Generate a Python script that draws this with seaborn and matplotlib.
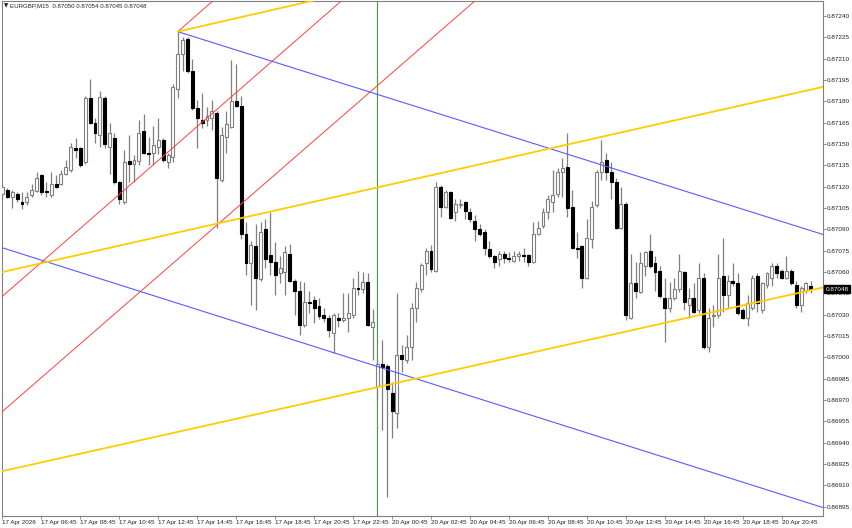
import matplotlib
matplotlib.use("Agg")
import matplotlib.pyplot as plt
import seaborn as sns
import numpy as np
import pandas as pd

sns.set_style("white")
plt.rcParams['font.family'] = ['Liberation Sans', 'DejaVu Sans']

# ---------------- data (EURGBP M15 candles) ----------------
opens = [
    0.87115, 0.87118, 0.87113, 0.87115, 0.87109, 0.87109, 0.87114, 0.87117, 0.87128, 0.87117,
    0.87114, 0.87122, 0.87122, 0.87129, 0.87132, 0.87147, 0.87147, 0.87137, 0.87182, 0.87165,
    0.87156, 0.87182, 0.87148, 0.87154, 0.87123, 0.87109, 0.87138, 0.87136, 0.87138, 0.87159,
    0.87144, 0.87144, 0.87148, 0.87153, 0.87137, 0.87141, 0.87189, 0.87213, 0.87224, 0.87201,
    0.87175, 0.87167, 0.87167, 0.87168, 0.87172, 0.87125, 0.87155, 0.87162, 0.87180, 0.87177,
    0.87087, 0.87066, 0.87078, 0.87055, 0.87090, 0.87072, 0.87067, 0.87059, 0.87060, 0.87073,
    0.87054, 0.87047, 0.87023, 0.87039, 0.87040, 0.87036, 0.87030, 0.87028, 0.87017, 0.87028,
    0.87026, 0.87028, 0.87030, 0.87049, 0.87048, 0.87053, 0.87021, 0.86980, 0.86995, 0.86994,
    0.86975, 0.86961, 0.87002, 0.86998, 0.87007, 0.87035, 0.87048, 0.87066, 0.87075, 0.87061,
    0.87120, 0.87106, 0.87116, 0.87102, 0.87107, 0.87109, 0.87102, 0.87096, 0.87090, 0.87088,
    0.87076, 0.87071, 0.87069, 0.87073, 0.87070, 0.87068, 0.87071, 0.87072, 0.87072, 0.87067,
    0.87087, 0.87092, 0.87102, 0.87109, 0.87115, 0.87130, 0.87134, 0.87106, 0.87077, 0.87078,
    0.87056, 0.87083, 0.87107, 0.87130, 0.87139, 0.87130, 0.87123, 0.87091, 0.87108, 0.87028,
    0.87052, 0.87046, 0.87064, 0.87075, 0.87066, 0.87061, 0.87042, 0.87035, 0.87042, 0.87048,
    0.87060, 0.87037, 0.87042, 0.87033, 0.87056, 0.87007, 0.87029, 0.87030, 0.87057, 0.87044,
    0.87054, 0.87052, 0.87033, 0.87028, 0.87035, 0.87057, 0.87033, 0.87051, 0.87056, 0.87064,
    0.87061, 0.87056, 0.87061, 0.87051, 0.87037, 0.87047, 0.87050,
]
highs = [
    0.87122, 0.87119, 0.87118, 0.87116, 0.87116, 0.87116, 0.87122, 0.87130, 0.87129, 0.87123,
    0.87130, 0.87128, 0.87132, 0.87139, 0.87151, 0.87154, 0.87148, 0.87184, 0.87196, 0.87168,
    0.87187, 0.87184, 0.87165, 0.87158, 0.87124, 0.87146, 0.87156, 0.87142, 0.87167, 0.87171,
    0.87155, 0.87163, 0.87168, 0.87154, 0.87144, 0.87192, 0.87229, 0.87225, 0.87225, 0.87210,
    0.87181, 0.87186, 0.87176, 0.87181, 0.87173, 0.87162, 0.87173, 0.87209, 0.87206, 0.87184,
    0.87095, 0.87082, 0.87094, 0.87095, 0.87097, 0.87102, 0.87081, 0.87071, 0.87078, 0.87080,
    0.87055, 0.87054, 0.87053, 0.87047, 0.87043, 0.87042, 0.87035, 0.87030, 0.87031, 0.87031,
    0.87045, 0.87045, 0.87056, 0.87061, 0.87060, 0.87059, 0.87034, 0.86999, 0.87012, 0.86995,
    0.86983, 0.87045, 0.87009, 0.87016, 0.87038, 0.87053, 0.87066, 0.87077, 0.87079, 0.87123,
    0.87121, 0.87118, 0.87117, 0.87111, 0.87111, 0.87110, 0.87105, 0.87100, 0.87094, 0.87090,
    0.87082, 0.87072, 0.87075, 0.87075, 0.87074, 0.87075, 0.87075, 0.87077, 0.87073, 0.87095,
    0.87096, 0.87105, 0.87114, 0.87132, 0.87133, 0.87140, 0.87158, 0.87118, 0.87088, 0.87079,
    0.87097, 0.87110, 0.87132, 0.87153, 0.87144, 0.87137, 0.87126, 0.87120, 0.87109, 0.87073,
    0.87067, 0.87074, 0.87075, 0.87087, 0.87071, 0.87064, 0.87056, 0.87053, 0.87056, 0.87073,
    0.87061, 0.87049, 0.87052, 0.87066, 0.87059, 0.87035, 0.87037, 0.87073, 0.87084, 0.87058,
    0.87066, 0.87059, 0.87035, 0.87044, 0.87058, 0.87059, 0.87053, 0.87060, 0.87066, 0.87066,
    0.87062, 0.87071, 0.87062, 0.87054, 0.87050, 0.87053, 0.87054,
]
lows = [
    0.87111, 0.87112, 0.87105, 0.87109, 0.87104, 0.87107, 0.87113, 0.87116, 0.87114, 0.87113,
    0.87113, 0.87119, 0.87121, 0.87128, 0.87130, 0.87140, 0.87134, 0.87136, 0.87164, 0.87151,
    0.87148, 0.87147, 0.87129, 0.87122, 0.87108, 0.87108, 0.87123, 0.87123, 0.87135, 0.87143,
    0.87135, 0.87135, 0.87143, 0.87137, 0.87133, 0.87137, 0.87182, 0.87201, 0.87200, 0.87174,
    0.87147, 0.87161, 0.87163, 0.87160, 0.87091, 0.87123, 0.87144, 0.87161, 0.87176, 0.87083,
    0.87058, 0.87037, 0.87033, 0.87054, 0.87063, 0.87058, 0.87044, 0.87052, 0.87044, 0.87053,
    0.87030, 0.87016, 0.87021, 0.87031, 0.87024, 0.87027, 0.87025, 0.87014, 0.87003, 0.87021,
    0.87025, 0.87018, 0.87028, 0.87044, 0.87045, 0.87022, 0.86998, 0.86970, 0.86949, 0.86902,
    0.86943, 0.86950, 0.86990, 0.86996, 0.86998, 0.87025, 0.87046, 0.87058, 0.87060, 0.87060,
    0.87099, 0.87105, 0.87097, 0.87096, 0.87105, 0.87097, 0.87095, 0.87082, 0.87085, 0.87072,
    0.87070, 0.87063, 0.87064, 0.87066, 0.87067, 0.87067, 0.87068, 0.87067, 0.87064, 0.87066,
    0.87086, 0.87091, 0.87097, 0.87102, 0.87113, 0.87113, 0.87099, 0.87076, 0.87070, 0.87049,
    0.87055, 0.87077, 0.87106, 0.87125, 0.87125, 0.87111, 0.87090, 0.87090, 0.87026, 0.87027,
    0.87042, 0.87045, 0.87057, 0.87063, 0.87047, 0.87042, 0.87011, 0.87032, 0.87040, 0.87046,
    0.87033, 0.87028, 0.87031, 0.87031, 0.87006, 0.87004, 0.87021, 0.87028, 0.87032, 0.87035,
    0.87050, 0.87030, 0.87027, 0.87022, 0.87033, 0.87032, 0.87031, 0.87049, 0.87050, 0.87056,
    0.87055, 0.87055, 0.87051, 0.87035, 0.87032, 0.87045, 0.87045,
]
closes = [
    0.87120, 0.87113, 0.87116, 0.87111, 0.87108, 0.87113, 0.87118, 0.87126, 0.87116, 0.87116,
    0.87122, 0.87120, 0.87129, 0.87134, 0.87148, 0.87146, 0.87135, 0.87182, 0.87165, 0.87158,
    0.87183, 0.87150, 0.87158, 0.87123, 0.87111, 0.87137, 0.87136, 0.87139, 0.87158, 0.87144,
    0.87143, 0.87149, 0.87153, 0.87139, 0.87142, 0.87190, 0.87213, 0.87223, 0.87201, 0.87175,
    0.87168, 0.87165, 0.87170, 0.87173, 0.87126, 0.87156, 0.87164, 0.87180, 0.87177, 0.87087,
    0.87066, 0.87079, 0.87056, 0.87088, 0.87069, 0.87067, 0.87058, 0.87063, 0.87074, 0.87054,
    0.87047, 0.87023, 0.87039, 0.87038, 0.87035, 0.87029, 0.87028, 0.87019, 0.87030, 0.87026,
    0.87028, 0.87031, 0.87049, 0.87048, 0.87053, 0.87023, 0.87025, 0.86995, 0.86993, 0.86978,
    0.86962, 0.87002, 0.86999, 0.87007, 0.87035, 0.87049, 0.87065, 0.87075, 0.87062, 0.87120,
    0.87106, 0.87116, 0.87098, 0.87108, 0.87108, 0.87103, 0.87097, 0.87090, 0.87087, 0.87077,
    0.87071, 0.87067, 0.87073, 0.87070, 0.87069, 0.87071, 0.87073, 0.87071, 0.87067, 0.87087,
    0.87091, 0.87102, 0.87111, 0.87114, 0.87130, 0.87133, 0.87105, 0.87077, 0.87076, 0.87056,
    0.87084, 0.87106, 0.87130, 0.87137, 0.87130, 0.87123, 0.87091, 0.87108, 0.87030, 0.87052,
    0.87047, 0.87066, 0.87074, 0.87064, 0.87060, 0.87043, 0.87035, 0.87042, 0.87048, 0.87061,
    0.87039, 0.87042, 0.87032, 0.87056, 0.87007, 0.87028, 0.87030, 0.87056, 0.87044, 0.87054,
    0.87052, 0.87031, 0.87028, 0.87038, 0.87056, 0.87038, 0.87052, 0.87059, 0.87064, 0.87059,
    0.87056, 0.87061, 0.87052, 0.87037, 0.87049, 0.87052, 0.87048,
]

x_tick_pos = [0, 8, 16, 24, 32, 40, 48, 56, 64, 72, 80, 88, 96, 104, 112, 120, 128, 136, 144, 152, 160]
x_tick_labels = [
    "17 Apr 2026", "17 Apr 06:45", "17 Apr 08:45", "17 Apr 10:45", "17 Apr 12:45",
    "17 Apr 14:45", "17 Apr 16:45", "17 Apr 18:45", "17 Apr 20:45", "17 Apr 22:45",
    "20 Apr 00:45", "20 Apr 02:45", "20 Apr 04:45", "20 Apr 06:45", "20 Apr 08:45",
    "20 Apr 10:45", "20 Apr 12:45", "20 Apr 14:45", "20 Apr 16:45", "20 Apr 18:45",
    "20 Apr 20:45",
]
y_ticks = [0.86895, 0.86910, 0.86925, 0.86940, 0.86955, 0.86970, 0.86985, 0.87000,
           0.87015, 0.87030, 0.87045, 0.87060, 0.87075, 0.87090, 0.87105, 0.87120,
           0.87135, 0.87150, 0.87165, 0.87180, 0.87195, 0.87210, 0.87225, 0.87240]
y_tick_labels = ["%.5f" % v for v in y_ticks]

header_symbol = "EURGBP,M15"
header_ohlc = ["0.87050", "0.87054", "0.87045", "0.87048"]
last_price = 0.87048
separator_bar = 77

# drawn objects: two anchor points (bar index, price) and start mode
# "full" = extended both ways, "ray" = starts at first anchor
trend_lines = [
    # colour,      lw,  mode,   (x0, p0),        (x1, p1)
    ("#ff4040", 0.7, "ray",  (36, 0.87229), (60, 0.87301)),
    ("#ff4040", 0.7, "full", (0, 0.87043),  (60, 0.87222)),
    ("#ff4040", 0.7, "full", (0, 0.86962),  (80, 0.87200)),
    ("#5a5aff", 0.8, "ray",  (36, 0.87229), (167, 0.87088)),
    ("#5a5aff", 0.8, "full", (0, 0.87077),  (167, 0.86896)),
    ("#ffcc00", 1.3, "ray",  (36, 0.87229), (64, 0.87251)),
    ("#ffcc00", 1.3, "full", (0, 0.87060),  (167, 0.87189)),
    ("#ffcc00", 1.3, "full", (0, 0.86920),  (167, 0.87048)),
]

# ---------------- figure ----------------
W, H = 852, 528
fig = plt.figure(figsize=(W / 100, H / 100), dpi=100)
fig.patch.set_facecolor("white")
ax = fig.add_axes([2 / W, 12 / H, 821 / W, 515 / H])
ax.set_facecolor("white")

XMIN, XMAX = -0.1, 168.5
YMIN, YMAX = 0.8688845, 0.8725055
ax.set_xlim(XMIN, XMAX)
ax.set_ylim(YMIN, YMAX)

df = pd.DataFrame({"o": opens, "h": highs, "l": lows, "c": closes})
df["i"] = np.arange(len(df))
bull = df["c"] >= df["o"]
min_h = 0.0000018
body_bottom = np.minimum(df["o"], df["c"])
body_height = np.maximum(np.abs(df["c"] - df["o"]), min_h)

wick_col = "#7f7f7f"
ax.axvline(separator_bar, color="#3da03d", lw=0.8, zorder=1)
ax.vlines(df["i"], df["l"], df["h"], color=wick_col, lw=0.9, zorder=2)
ax.bar(df["i"][bull], body_height[bull], bottom=body_bottom[bull], width=0.6,
       color="white", edgecolor=wick_col, linewidth=0.8, zorder=3)
ax.bar(df["i"][~bull], body_height[~bull], bottom=body_bottom[~bull], width=0.6,
       color="black", edgecolor="black", linewidth=0.8, zorder=3)

for col, lw, mode, (x0, p0), (x1, p1) in trend_lines:
    slope = (p1 - p0) / (x1 - x0)
    xa = XMIN - 1 if mode == "full" else x0
    xb = XMAX + 1
    sns.lineplot(x=[xa, xb], y=[p0 + slope * (xa - x0), p0 + slope * (xb - x0)],
                 ax=ax, color=col, lw=lw, zorder=4, sort=False)

# axes styling
for s in ax.spines.values():
    s.set_color("#808080")
    s.set_linewidth(0.8)
ax.yaxis.tick_right()
ax.set_yticks(y_ticks)
ax.set_yticklabels(y_tick_labels)
ax.set_xticks(x_tick_pos)
ax.set_xticklabels(x_tick_labels, ha="left")
ax.tick_params(axis="y", which="both", right=True, left=False, direction="out",
               length=2.0, width=0.6, color="#808080", labelsize=4.6, pad=1.0,
               labelcolor="#222222")
ax.tick_params(axis="x", which="both", bottom=True, direction="out",
               length=2.5, width=0.6, color="#808080", labelsize=4.5, pad=0.6,
               labelcolor="#222222")
ax.set_xlabel("")
ax.set_ylabel("")
ax.grid(False)

# current price box
ax.text(1.0030, last_price, "%.5f" % last_price, transform=ax.get_yaxis_transform(),
        ha="left", va="center", fontsize=4.6, color="white", zorder=10,
        bbox=dict(boxstyle="square,pad=0.2", fc="black", ec="black"), clip_on=False)

# header
fig.text(4 / W, 1 - 6 / H, "\u25bc", fontsize=4.0, va="center", ha="left",
         family=["DejaVu Sans"], color="#222222")
fig.text(10 / W, 1 - 6 / H, header_symbol + "  " + " ".join(header_ohlc),
         fontsize=4.4, va="center", ha="left", color="#222222")

fig.savefig("out.png", dpi=100)
